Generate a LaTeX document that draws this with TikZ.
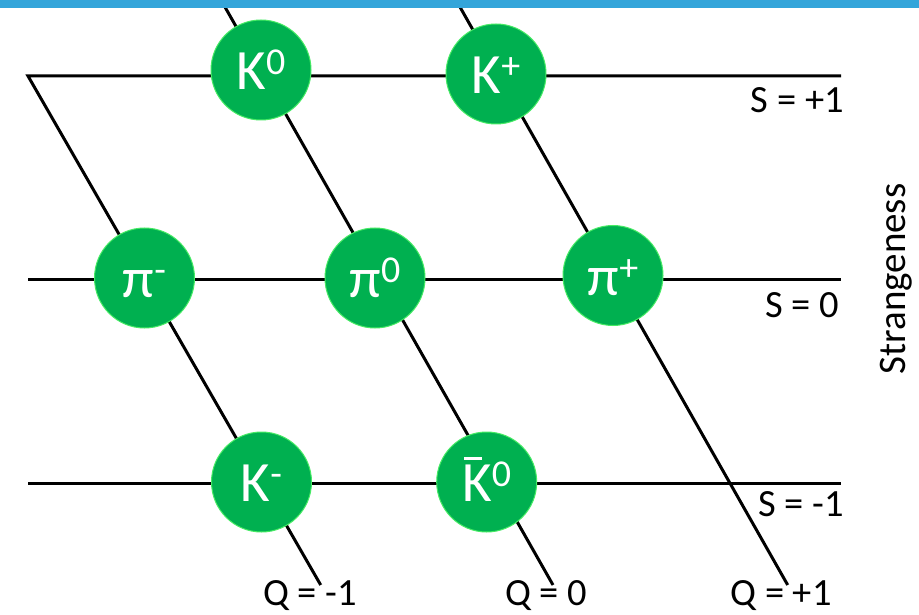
\documentclass[tikz,border=0pt]{standalone}
\usepackage{fontspec}
\setmainfont{Carlito}
\definecolor{pgreen}{RGB}{0,176,80}
\definecolor{pedge}{RGB}{70,235,100}
\definecolor{barblue}{RGB}{52,165,218}
\newcommand\psup[1]{{\fontsize{38}{38}\selectfont\raisebox{15pt}{#1}}}
\newcommand\kbar{\rlap{\hspace{2pt}\rule[42pt]{18pt}{2.2pt}}K}
\begin{document}
\begin{tikzpicture}[x=1pt,y=-1pt,
  gridline/.style={line width=3pt, black},
  particle/.style={circle, fill=pgreen, draw=pedge, line width=1pt, minimum size=100pt, inner sep=0pt,
    text=white, text height=39pt, text depth=0pt, font=\fontsize{57}{60}\selectfont},
  lab/.style={inner sep=0pt, font=\fontsize{38.5}{40}\selectfont}]
\useasboundingbox (0,0) rectangle (919,615);
\fill[white] (0,0) rectangle (919,615);
% line end points
\coordinate (L1) at (28,76);   \coordinate (R1) at (841,76);
\coordinate (L2) at (28,279);  \coordinate (R2) at (841,279);
\coordinate (L3) at (28,483);  \coordinate (R3) at (841,483);
\coordinate (D1b) at (320.7,585);
\coordinate (D2a) at (221,0);  \coordinate (D2b) at (553,585);
\coordinate (D3a) at (456,0);  \coordinate (D3b) at (787.7,585);
% lines
\draw[gridline] (R1) -- (L1) -- (D1b);
\draw[gridline] (L2) -- (R2);
\draw[gridline] (L3) -- (R3);
\draw[gridline] (D2a) -- (D2b);
\draw[gridline] (D3a) -- (D3b);
% top bar
\fill[barblue] (0,0) rectangle (919,8);
% particles
\node[particle] (K0)   at (261,70)    {K\psup{0}};
\node[particle] (Kp)   at (496,74)    {K\psup{+}};
\node[particle] (pim)  at (144.5,278) {π\psup{-}};
\node[particle] (pi0)  at (375,278)   {π\psup{0}};
\node[particle] (pip)  at (613,275.5) {π\psup{+}};
\node[particle] (Km)   at (261.5,482) {K\psup{-}};
\node[particle] (K0b)  at (486.7,482) {\kbar\psup{0}};
% labels
\node[lab, anchor=base east] (S1) at (844,112.5) {S = +1};
\node[lab, anchor=base east] (S0) at (839,317.7) {S = 0};
\node[lab, anchor=base east] (Sm) at (844,516) {S = -1};
\node[lab, anchor=base] (Qm) at (310,605.5) {Q = -1};
\node[lab, anchor=base] (Q0) at (546,605.5) {Q = 0};
\node[lab, anchor=base] (Qp) at (781,605.5) {Q = +1};
\node[inner sep=0pt, font=\fontsize{39}{40}\selectfont, rotate=90, anchor=base] (St) at (905,279) {Strangeness};
\end{tikzpicture}
\end{document}
